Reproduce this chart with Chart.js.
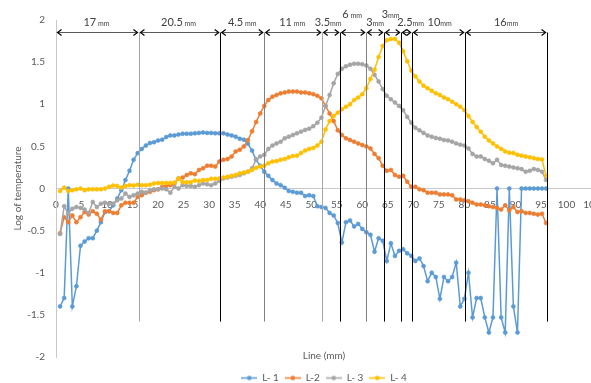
<!DOCTYPE html>
<html>
<head>
<meta charset="utf-8">
<script src="https://cdn.jsdelivr.net/npm/chart.js@4.4.1/dist/chart.umd.min.js"></script>
<style>
  html, body { margin: 0; padding: 0; background: #fff; overflow: hidden; }
  #wrap { width: 620px; height: 393px; }
</style>
</head>
<body>
<div id="wrap"><canvas id="chart" width="620" height="393"></canvas></div>
<script>
// readings along the line, one every 0.8 mm
const sampleStep = 0.8;

const seriesNames = ["L- 1", "L-2", "L- 3", "L- 4"];
const seriesColors = ["#5B9BD5", "#ED7D31", "#A5A5A5", "#FFC000"];

const l1 = [-1.40, -1.30, 0.00, -1.40, -1.16, -0.68, -0.63, -0.59, -0.59, -0.50,
    -0.40, -0.28, -0.27, -0.20, -0.12, -0.02, 0.10, 0.21, 0.34, 0.42,
    0.47, 0.51, 0.54, 0.55, 0.57, 0.58, 0.61, 0.63, 0.63, 0.64,
    0.65, 0.65, 0.65, 0.655, 0.66, 0.665, 0.66, 0.66, 0.655, 0.655,
    0.655, 0.64, 0.63, 0.615, 0.59, 0.58, 0.53, 0.45, 0.34, 0.27,
    0.20, 0.15, 0.10, 0.06, 0.04, 0.01, -0.03, -0.04, -0.05, -0.05,
    -0.09, -0.08, -0.09, -0.21, -0.22, -0.23, -0.29, -0.32, -0.41, -0.64,
    -0.40, -0.38, -0.45, -0.42, -0.48, -0.52, -0.55, -0.75, -0.59, -0.62,
    -0.86, -0.65, -0.80, -0.74, -0.72, -0.77, -0.80, -0.86, -0.83, -0.92,
    -1.10, -1.00, -1.05, -1.31, -1.05, -1.10, -1.05, -0.88, -1.40, -1.31,
    -1.00, -1.53, -1.30, -1.30, -1.53, -1.71, -1.53, 0.00, -1.53, -1.71,
    0.00, -1.40, -1.71, 0.00, 0.00, 0.00, 0.00, 0.00, 0.00, 0.00];

const l2 = [-0.53, -0.34, -0.40, -0.32, -0.40, -0.34, -0.28, -0.31, -0.27, -0.30,
    -0.37, -0.27, -0.27, -0.29, -0.29, -0.20, -0.17, -0.17, -0.17, -0.10,
    -0.08, -0.05, -0.04, -0.02, -0.01, 0.02, 0.03, 0.04, 0.06, 0.12,
    0.13, 0.16, 0.18, 0.17, 0.22, 0.24, 0.27, 0.27, 0.26, 0.32,
    0.34, 0.35, 0.38, 0.44, 0.46, 0.50, 0.575, 0.68, 0.79, 0.89,
    0.98, 1.05, 1.09, 1.11, 1.13, 1.14, 1.15, 1.15, 1.15, 1.14,
    1.14, 1.13, 1.12, 1.10, 1.07, 0.98, 0.89, 0.80, 0.69, 0.635,
    0.595, 0.575, 0.555, 0.535, 0.515, 0.50, 0.475, 0.41, 0.36, 0.27,
    0.21, 0.22, 0.16, 0.14, 0.15, 0.08, 0.02, 0.02, -0.01, -0.02,
    -0.05, -0.05, -0.05, -0.07, -0.07, -0.07, -0.08, -0.13, -0.13, -0.14,
    -0.15, -0.17, -0.19, -0.19, -0.20, -0.21, -0.22, -0.23, -0.25, -0.20,
    -0.26, -0.22, -0.28, -0.27, -0.29, -0.29, -0.30, -0.31, -0.30, -0.41];

const l3 = [-0.54, -0.21, -0.30, -0.24, -0.22, -0.23, -0.25, -0.29, -0.16, -0.22,
    -0.18, -0.17, -0.18, -0.18, -0.14, -0.12, -0.06, -0.10, -0.08, -0.06,
    -0.04, -0.05, -0.02, -0.01, -0.01, 0.00, -0.01, -0.05, 0.02, 0.00,
    0.04, 0.03, 0.03, 0.02, 0.04, 0.06, 0.05, 0.04, 0.06, 0.09,
    0.12, 0.13, 0.14, 0.15, 0.16, 0.18, 0.20, 0.24, 0.345, 0.38,
    0.40, 0.47, 0.51, 0.535, 0.555, 0.595, 0.615, 0.635, 0.655, 0.675,
    0.695, 0.71, 0.74, 0.78, 0.84, 0.98, 1.11, 1.25, 1.36, 1.42,
    1.45, 1.47, 1.48, 1.48, 1.475, 1.46, 1.42, 1.35, 1.27, 1.18,
    1.10, 1.06, 1.02, 0.98, 0.93, 0.85, 0.78, 0.72, 0.69, 0.66,
    0.63, 0.615, 0.60, 0.59, 0.575, 0.57, 0.555, 0.535, 0.52, 0.51,
    0.475, 0.41, 0.38, 0.38, 0.35, 0.33, 0.30, 0.34, 0.28, 0.27,
    0.26, 0.25, 0.24, 0.23, 0.20, 0.21, 0.23, 0.22, 0.20, 0.10];

const l4 = [-0.03, 0.01, -0.03, -0.02, -0.01, 0.00, -0.02, -0.01, -0.01, -0.01,
    -0.01, 0.00, 0.02, 0.035, 0.03, 0.01, 0.03, 0.04, 0.035, 0.045,
    0.04, 0.04, 0.045, 0.06, 0.065, 0.065, 0.065, 0.065, 0.07, 0.115,
    0.075, 0.075, 0.075, 0.095, 0.09, 0.10, 0.10, 0.115, 0.115, 0.12,
    0.13, 0.14, 0.15, 0.16, 0.18, 0.19, 0.20, 0.22, 0.245, 0.26,
    0.27, 0.30, 0.32, 0.325, 0.34, 0.35, 0.37, 0.385, 0.39, 0.42,
    0.45, 0.47, 0.48, 0.51, 0.555, 0.70, 0.80, 0.86, 0.90, 0.94,
    0.97, 1.00, 1.05, 1.08, 1.12, 1.19, 1.30, 1.41, 1.56, 1.69,
    1.76, 1.775, 1.775, 1.73, 1.63, 1.51, 1.40, 1.33, 1.27, 1.22,
    1.19, 1.16, 1.13, 1.11, 1.08, 1.06, 1.03, 1.00, 0.97, 0.93,
    0.86, 0.79, 0.73, 0.675, 0.615, 0.57, 0.535, 0.50, 0.47, 0.44,
    0.425, 0.42, 0.40, 0.39, 0.38, 0.37, 0.36, 0.35, 0.345, 0.15];

const seriesValues = [l1, l2, l3, l4];

// section boundaries along the line (mm) and their labels
const sectionEdges = [16.25, 32.17, 40.79, 52.14, 55.67, 60.76, 64.28, 67.61, 69.77, 80.15, 96.2];
const sectionNums = ["17", "20.5", "4.5", "11", "3.5", "6", "3", "3", "2.5", "10", "16"];
const sectionUnits = [" mm", " mm", " mm", " mm", "mm", " mm", "mm", "mm", "mm", "mm", "mm"];

const xTickStep = 5;
const xMax = 105;
const yMin = -2, yMax = 2, yTickStep = 0.5;

const textColor = "#595959";
const axisColor = "#c8c8c8";

// --- annotation look (not data) ---
const edgeColors = ["#a6a6a6", "#000", "#808080", "#a6a6a6", "#000", "#808080", "#000", "#000", "#000", "#000", "#000"];
const raised = [false, false, false, false, false, true, false, true, false, false, false];
const nudge = [-1, -1, 0, -1, -3, -1, 0, -2, 4, 1, 0];
const arrowLevel = 1.852;
const lineFoot = -1.58;

function makeLegendMark(color) {
    const c = document.createElement("canvas");
    c.width = 16;
    c.height = 7;
    const g = c.getContext("2d");
    g.strokeStyle = color;
    g.lineWidth = 1.5;
    g.beginPath();
    g.moveTo(0, 3.5);
    g.lineTo(16, 3.5);
    g.stroke();
    g.fillStyle = color;
    g.beginPath();
    g.arc(8, 3.5, 2.3, 0, Math.PI * 2);
    g.fill();
    return c;
}

const sectionPlugin = {
    id: "sections",
    afterDatasetsDraw(chart) {
        const ctx = chart.ctx;
        const xs = chart.scales.x;
        const ys = chart.scales.y;
        const yA = Math.round(ys.getPixelForValue(arrowLevel)) + 0.5;
        const yF = ys.getPixelForValue(lineFoot);
        ctx.save();
        // vertical separators
        for (let k = 0; k < sectionEdges.length; k++) {
            const px = Math.round(xs.getPixelForValue(sectionEdges[k])) + 0.5;
            ctx.strokeStyle = edgeColors[k];
            ctx.lineWidth = 1;
            ctx.beginPath();
            ctx.moveTo(px, yA);
            ctx.lineTo(px, yF);
            ctx.stroke();
        }
        // double arrows + labels
        let prev = 0;
        for (let k = 0; k < sectionEdges.length; k++) {
            const a = xs.getPixelForValue(prev) + 1.5;
            const b = xs.getPixelForValue(sectionEdges[k]) - 1.5;
            ctx.strokeStyle = "#595959";
            ctx.lineWidth = 1;
            ctx.beginPath();
            ctx.moveTo(a, yA);
            ctx.lineTo(b, yA);
            ctx.stroke();
            ctx.strokeStyle = "#000";
            ctx.lineWidth = 1.2;
            ctx.beginPath();
            ctx.moveTo(a + 4, yA - 3);
            ctx.lineTo(a, yA);
            ctx.lineTo(a + 4, yA + 3);
            ctx.moveTo(b - 4, yA - 3);
            ctx.lineTo(b, yA);
            ctx.lineTo(b - 4, yA + 3);
            ctx.stroke();

            const mid = (xs.getPixelForValue(prev) + xs.getPixelForValue(sectionEdges[k])) / 2 + nudge[k];
            const base = raised[k] ? 18 : 26;
            ctx.font = "11px Lato";
            const w1 = ctx.measureText(sectionNums[k]).width;
            ctx.font = "7px Lato";
            const w2 = ctx.measureText(sectionUnits[k]).width;
            const start = mid - (w1 + w2) / 2;
            ctx.fillStyle = "#404040";
            ctx.textBaseline = "alphabetic";
            ctx.textAlign = "left";
            ctx.font = "11px Lato";
            ctx.fillText(sectionNums[k], start, base);
            ctx.font = "7px Lato";
            ctx.fillText(sectionUnits[k], start + w1, base);
            prev = sectionEdges[k];
        }
        ctx.restore();
    }
};

const datasets = seriesValues.map(function (vals, s) {
    return {
        label: seriesNames[s],
        data: vals.map(function (v, i) { return { x: +(sampleStep * (i + 1)).toFixed(2), y: v }; }),
        showLine: true,
        borderColor: seriesColors[s],
        backgroundColor: seriesColors[s],
        pointBackgroundColor: seriesColors[s],
        pointBorderColor: seriesColors[s],
        borderWidth: 1.5,
        pointRadius: 2,
        pointBorderWidth: 0.6,
        order: seriesValues.length - s
    };
});

new Chart(document.getElementById("chart"), {
    type: "scatter",
    data: { datasets: datasets },
    options: {
        responsive: false,
        animation: false,
        layout: { padding: { top: 20, left: 0, right: 28, bottom: 0 } },
        scales: {
            x: {
                type: "linear",
                position: { y: 0 },
                min: 0,
                max: xMax,
                grid: { display: false, drawTicks: false },
                border: { display: true, color: axisColor, width: 1 },
                ticks: {
                    stepSize: xTickStep,
                    autoSkip: false,
                    maxRotation: 0,
                    padding: 10,
                    color: textColor,
                    font: { family: "Lato", size: 10 }
                },
                afterFit: function (scale) { scale.height = 0; }
            },
            x2: {
                type: "linear",
                position: "bottom",
                min: 0,
                max: xMax,
                grid: { display: false, drawTicks: false },
                border: { display: false },
                ticks: { display: false },
                title: {
                    display: true,
                    text: "Line (mm)",
                    color: textColor,
                    font: { family: "Lato", size: 10 },
                    padding: { top: 0, bottom: 5 }
                },
                afterFit: function (scale) { scale.height = 10; }
            },
            y: {
                type: "linear",
                position: "left",
                min: yMin,
                max: yMax,
                grid: { display: false, drawTicks: false },
                border: { display: true, color: axisColor, width: 1 },
                ticks: {
                    stepSize: yTickStep,
                    padding: 11,
                    color: textColor,
                    font: { family: "Lato", size: 10 },
                    callback: function (v) { return String(v); }
                },
                title: {
                    display: true,
                    text: "Log of temperature",
                    color: textColor,
                    font: { family: "Lato", size: 10 },
                    padding: { top: 12, bottom: 0 }
                },
                afterFit: function (scale) { scale.width = 56; }
            }
        },
        plugins: {
            tooltip: { enabled: false },
            legend: {
                position: "bottom",
                fullSize: false,
                labels: {
                    usePointStyle: true,
                    pointStyleWidth: 16,
                    padding: 6,
                    color: textColor,
                    font: { family: "Lato", size: 10 },
                    generateLabels: function (chart) {
                        return seriesNames.map(function (name, s) {
                            return {
                                text: name,
                                fontColor: textColor,
                                pointStyle: makeLegendMark(seriesColors[s]),
                                datasetIndex: s,
                                hidden: false,
                                lineWidth: 0,
                                strokeStyle: seriesColors[s],
                                fillStyle: seriesColors[s]
                            };
                        });
                    }
                }
            }
        }
    },
    plugins: [sectionPlugin]
});
</script>
</body>
</html>
